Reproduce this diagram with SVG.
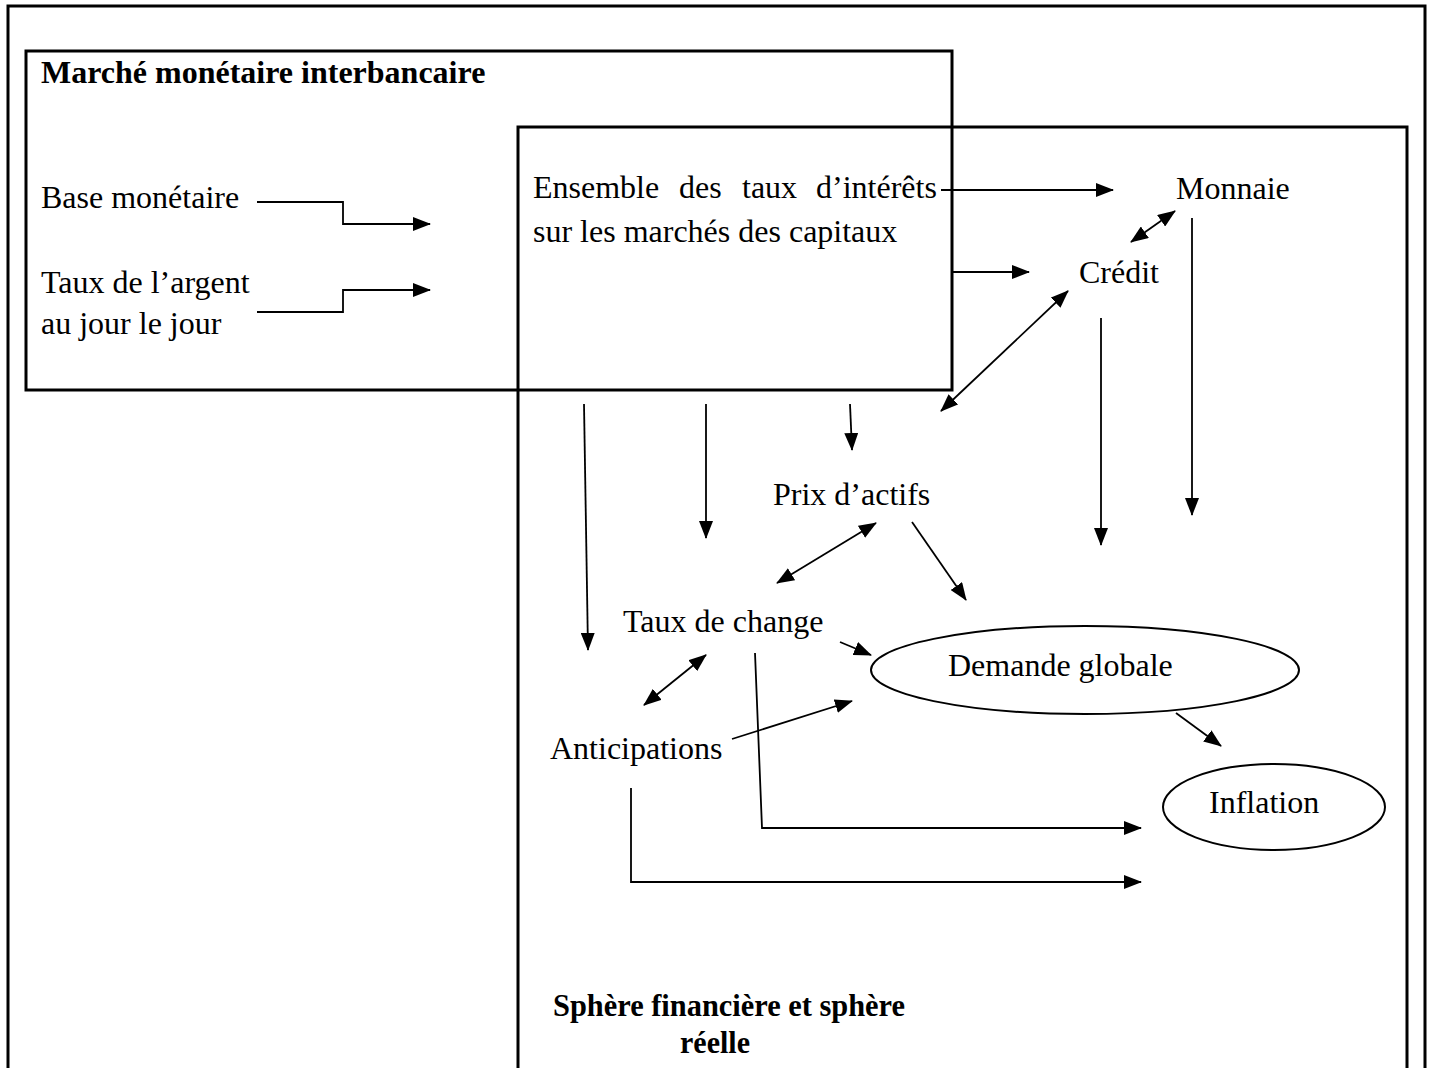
<svg xmlns="http://www.w3.org/2000/svg" width="1433" height="1068" viewBox="0 0 1433 1068">
<style>
.t{font-family:"Liberation Serif","Times New Roman",serif;font-size:32px;fill:#000}
.b{font-weight:bold}
.frame{fill:none;stroke:#000;stroke-width:3}
.c{fill:none;stroke:#000;stroke-width:1.8}
.a{marker-end:url(#ah)}
.d{marker-start:url(#ahs);marker-end:url(#ah)}
.e{fill:#fff;stroke:#000;stroke-width:2}
</style>
<defs>
<marker id="ah" viewBox="0 0 18 14" refX="17" refY="7" markerWidth="18" markerHeight="14" markerUnits="userSpaceOnUse" orient="auto">
<path d="M0,0 L18,7 L0,14 z" fill="#000"/>
</marker>
<marker id="ahs" viewBox="0 0 18 14" refX="1" refY="7" markerWidth="18" markerHeight="14" markerUnits="userSpaceOnUse" orient="auto">
<path d="M18,0 L0,7 L18,14 z" fill="#000"/>
</marker>
</defs>
<rect width="1433" height="1068" fill="#fff"/>
<g id="outer-frame">
<path class="frame" d="M8,1068 V6 H1425 V1068"/>
</g>
<g id="marche-monetaire">
<rect class="frame" x="26" y="51" width="926" height="339"/>
<text class="t b" x="41" y="83">Marché monétaire interbancaire</text>
</g>
<g id="sphere">
<path class="frame" d="M518,1068 V127 H1407 V1068"/>
<text class="t b" x="553" y="1016" textLength="352" lengthAdjust="spacingAndGlyphs">Sphère financière et sphère</text>
<text class="t b" x="680" y="1053" textLength="70" lengthAdjust="spacingAndGlyphs">réelle</text>
</g>
<g id="base-monetaire"><text class="t" x="41" y="208">Base monétaire</text></g>
<g id="taux-argent"><text class="t" x="41" y="293">Taux de l’argent</text><text class="t" x="41" y="334">au jour le jour</text></g>
<g id="ensemble-taux">
<text class="t" y="198"><tspan x="533">Ensemble</tspan><tspan x="679">des</tspan><tspan x="742">taux</tspan><tspan x="816">d’intérêts</tspan></text>
<text class="t" x="533" y="242">sur les marchés des capitaux</text>
</g>
<g id="monnaie"><text class="t" x="1176" y="199">Monnaie</text></g>
<g id="credit"><text class="t" x="1079" y="283">Crédit</text></g>
<g id="prix-actifs"><text class="t" x="773" y="505">Prix d’actifs</text></g>
<g id="taux-change"><text class="t" x="623" y="632">Taux de change</text></g>
<g id="anticipations"><text class="t" x="550" y="759">Anticipations</text></g>
<g id="demande-globale"><ellipse class="e" cx="1085" cy="670" rx="214" ry="44"/><text class="t" x="948" y="676">Demande globale</text></g>
<g id="inflation"><ellipse class="e" cx="1274" cy="807" rx="111" ry="43"/><text class="t" x="1209" y="813">Inflation</text></g>
<g id="connectors">
<path class="c a" d="M257,202 H343 V224 H430"/>
<path class="c a" d="M257,312 H343 V290 H430"/>
<path class="c a" d="M941,190 H1113"/>
<path class="c a" d="M952,272 H1029"/>
<path class="c d" d="M1131,242 L1175,211"/>
<path class="c d" d="M941,411 L1068,291"/>
<path class="c a" d="M1101,318 V545"/>
<path class="c a" d="M1192,218 V515"/>
<path class="c a" d="M584,404 L588,650"/>
<path class="c a" d="M706,404 V538"/>
<path class="c a" d="M850,404 L852,450"/>
<path class="c d" d="M777,583 L876,523"/>
<path class="c a" d="M912,522 L966,600"/>
<path class="c a" d="M840,642 L871,655"/>
<path class="c d" d="M644,705 L706,655"/>
<path class="c a" d="M732,739 L852,701"/>
<path class="c a" d="M755,653 L762,828 H1141"/>
<path class="c a" d="M631,788 V882 H1141"/>
<path class="c a" d="M1176,713 L1221,746"/>
</g>
</svg>
